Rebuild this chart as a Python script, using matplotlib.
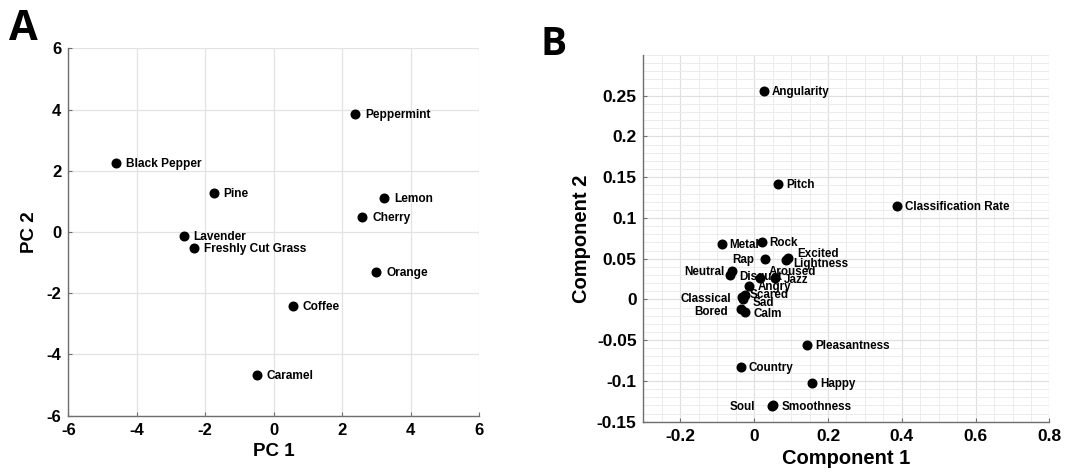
import matplotlib
matplotlib.use("Agg")
import matplotlib.pyplot as plt
from matplotlib.ticker import MultipleLocator

# ---------------- Data ----------------
names_a = ["Peppermint", "Black Pepper", "Pine", "Lemon", "Cherry", "Lavender",
           "Freshly Cut Grass", "Orange", "Coffee", "Caramel"]
pc1 = [2.38, -4.61, -1.75, 3.23, 2.59, -2.63, -2.33, 3.00, 0.56, -0.49]
pc2 = [3.86, 2.24, 1.28, 1.11, 0.48, -0.13, -0.53, -1.30, -2.41, -4.66]

names_b = ["Angularity", "Pitch", "Classification Rate", "Metal", "Rock", "Rap",
           "Excited", "Lightness", "Neutral", "Disgust", "Aroused", "Jazz", "Angry",
           "Scared", "Classical", "Sad", "Bored", "Calm", "Pleasantness", "Country",
           "Happy", "Soul", "Smoothness"]
comp1 = [0.026, 0.065, 0.386, -0.088, 0.022, 0.030, 0.092, 0.085, -0.060, -0.066,
         0.015, 0.057, -0.015, -0.025, -0.032, -0.031, -0.037, -0.026, 0.144,
         -0.037, 0.157, 0.048, 0.051]
comp2 = [0.256, 0.142, 0.115, 0.068, 0.070, 0.050, 0.051, 0.048, 0.035, 0.030,
         0.026, 0.026, 0.016, 0.006, 0.003, 0.001, -0.012, -0.015, -0.056, -0.083,
         -0.102, -0.131, -0.130]

xticks_a = [-6, -4, -2, 0, 2, 4, 6]
yticks_a = [-6, -4, -2, 0, 2, 4, 6]
xticks_b = [-0.2, 0, 0.2, 0.4, 0.6, 0.8]
xticklabels_b = ["-0.2", "0", "0.2", "0.4", "0.6", "0.8"]
yticks_b = [-0.15, -0.1, -0.05, 0, 0.05, 0.1, 0.15, 0.2, 0.25]
yticklabels_b = ["-0.15", "-0.1", "-0.05", "0", "0.05", "0.1", "0.15", "0.2", "0.25"]

# label placement (pixel offsets from the dot, dx, dy, alignment)
label_style_b = {
    "Neutral": (-8, -1.5, "right"), "Disgust": (9, -1.7, "left"),
    "Aroused": (9, 6, "left"), "Jazz": (9, -1.7, "left"), "Angry": (9, -1, "left"),
    "Scared": (5, 0, "left"), "Sad": (9.6, -4.8, "left"),
    "Classical": (-11, -2, "right"), "Bored": (-13, -2.6, "right"),
    "Calm": (9.4, -2.4, "left"), "Metal": (8, -1, "left"), "Rock": (7, -0.7, "left"),
    "Rap": (-11, -1, "right"), "Excited": (9, 4, "left"),
    "Lightness": (8, -4, "left"), "Soul": (-17, -1, "right"),
}

PX = 0.72  # points per pixel at dpi 100
plt.rcParams['font.family'] = ['Liberation Sans', 'DejaVu Sans']
plt.rcParams['font.weight'] = 'bold'
plt.rcParams['axes.unicode_minus'] = False

fig = plt.figure(figsize=(10.65, 4.76), dpi=100)

def style_axes(ax, tick_size):
    for s in ("top", "right"):
        ax.spines[s].set_visible(False)
    for s in ("left", "bottom"):
        ax.spines[s].set_color("#6e6e6e")
        ax.spines[s].set_linewidth(1.0)
    ax.tick_params(direction="in", length=3, width=0.8, color="#6e6e6e",
                   labelsize=tick_size, pad=5)
    for lab in ax.get_xticklabels() + ax.get_yticklabels():
        lab.set_fontweight("bold")
    ax.set_axisbelow(True)

# ---------------- Panel A ----------------
axA = fig.add_axes([0.0641, 0.1267, 0.3857, 0.7718])
axA.set_xlim(-6, 6)
axA.set_ylim(-6, 6)
axA.set_xticks(xticks_a)
axA.set_yticks(yticks_a)
axA.grid(True, color="#e3e3e3", linewidth=0.9)
axA.plot(pc1, pc2, "o", color="black", markersize=6.2, linestyle="none", clip_on=False)
for n, x, y in zip(names_a, pc1, pc2):
    axA.annotate(n, (x, y), xytext=(10 * PX, -1 * PX), textcoords="offset points",
                 ha="left", va="center", fontsize=8.6, fontweight="bold")
style_axes(axA, 12)
axA.set_xlabel("PC 1", fontsize=13.5, fontweight="bold", labelpad=4)
axA.set_ylabel("PC 2", fontsize=13.5, fontweight="bold", labelpad=6)

# ---------------- Panel B ----------------
axB = fig.add_axes([0.6042, 0.1141, 0.3812, 0.7704])
axB.set_xlim(-0.3, 0.8)
axB.set_ylim(-0.15, 0.3)
axB.set_xticks(xticks_b)
axB.set_xticklabels(xticklabels_b)
axB.set_yticks(yticks_b)
axB.set_yticklabels(yticklabels_b)
axB.xaxis.set_minor_locator(MultipleLocator(0.05))
axB.yaxis.set_minor_locator(MultipleLocator(0.01))
axB.grid(True, which="major", color="#e0e0e0", linewidth=0.9)
axB.grid(True, which="minor", color="#ececec", linewidth=0.7)
axB.tick_params(which="minor", length=0)
axB.plot(comp1, comp2, "o", color="black", markersize=6.2, linestyle="none")
for n, x, y in zip(names_b, comp1, comp2):
    dx, dy, ha = label_style_b.get(n, (8.4, -1.2, "left"))
    axB.annotate(n, (x, y), xytext=(dx * PX, dy * PX), textcoords="offset points",
                 ha=ha, va="center", fontsize=8.4, fontweight="bold")
style_axes(axB, 12.5)
axB.set_xlabel("Component 1", fontsize=14.5, fontweight="bold", labelpad=4)
axB.set_ylabel("Component 2", fontsize=14.5, fontweight="bold", labelpad=4)

# panel letters
fig.text(9 / 1065, 1 - 40 / 476, "A", fontsize=30, fontweight="bold",
         family=["Open Sans", "DejaVu Sans"], va="baseline", ha="left")
fig.text(541 / 1065, 1 - 55 / 476, "B", fontsize=28, fontweight="bold",
         family=["Open Sans", "DejaVu Sans"], va="baseline", ha="left")

fig.savefig("out.png", dpi=100)
